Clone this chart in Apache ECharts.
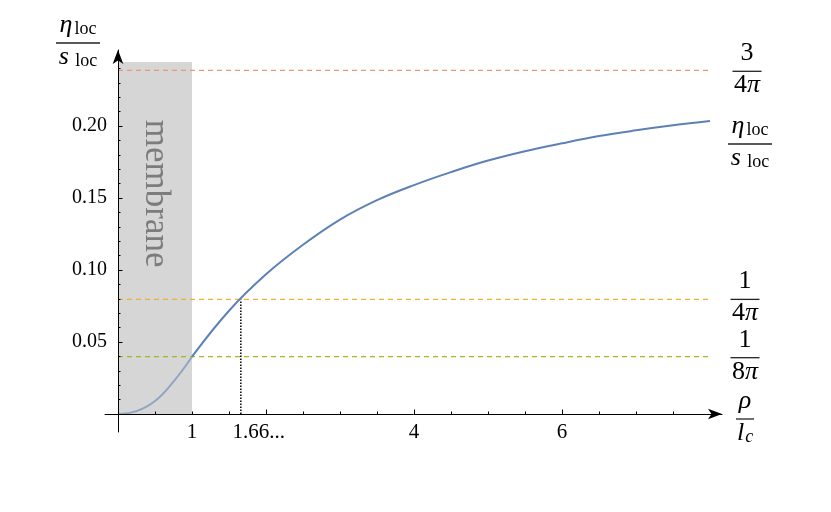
<!DOCTYPE html>
<html>
<head>
<meta charset="utf-8">
<script src="https://cdn.jsdelivr.net/npm/echarts@6/dist/echarts.min.js"></script>
<style>
  html, body { margin: 0; padding: 0; background: #fff; }
  #main { width: 831px; height: 512px; }
</style>
</head>
<body>
<div id="main"></div>
<script>
// curve eta_loc / s_loc against rho / l_c
// inside the membrane (0..1)
const rhoIn = [0, 0.25, 0.5, 0.75, 1.0]
const etaIn = [0, 0.002, 0.009, 0.0225, 0.0398]
// outside the membrane (1..8)
const rhoOut = [1.0, 1.5, 2.0, 2.5, 3.0, 3.5, 4.0, 4.5, 5.0, 5.5, 6.0, 6.5, 7.0, 7.5, 8.0]
const etaOut = [0.0398, 0.0717, 0.097, 0.1175, 0.135, 0.1485, 0.159, 0.168, 0.176, 0.1825, 0.188, 0.193, 0.197, 0.2005, 0.2035]

// reference levels: 3/(4pi), 1/(4pi), 1/(8pi)
const refValues = [0.2387, 0.0796, 0.0398]
const refColors = ['#e9967a', '#efb03a', '#a2b826']
const refEnd = 8

const membraneEnd = 1
const membraneTop = 0.2444
const crossX = 1.66

const xLabelValues = [1, 1.66, 4, 6]
const xMinorTicks = [0.5, 1, 1.5, 2, 2.5, 3, 3.5, 4, 4.5, 5, 5.5, 6, 6.5, 7, 7.5]
const xMajorTicks = [2, 4, 6]
const yLabelValues = [0.05, 0.1, 0.15, 0.2]
const yMinorTicks = [0.01, 0.02, 0.03, 0.04, 0.06, 0.07, 0.08, 0.09, 0.11, 0.12, 0.13, 0.14, 0.16, 0.17, 0.18, 0.19, 0.21, 0.22, 0.23, 0.24]

const serif = "'Liberation Serif', 'DejaVu Serif', serif"

const inside = rhoIn.map((x, i) => [x, etaIn[i]])
const outside = rhoOut.map((x, i) => [x, etaOut[i]])

const chart = echarts.init(document.getElementById('main'), null, { renderer: 'canvas' })

const xMin = -0.1757
const xMax = 8.162
const yMin = -0.0125
const yMax = 0.2528

function xAxisBase(extra) {
  return Object.assign({
    type: 'value',
    min: xMin,
    max: xMax,
    position: 'bottom',
    z: 10,
    splitLine: { show: false },
    axisLine: { onZero: true, lineStyle: { color: '#000', width: 1 } }
  }, extra)
}

function yAxisBase(extra) {
  return Object.assign({
    type: 'value',
    min: yMin,
    max: yMax,
    position: 'left',
    z: 10,
    splitLine: { show: false },
    axisLine: { onZero: true, lineStyle: { color: '#000', width: 1 } }
  }, extra)
}

const series = [
  {
    type: 'line',
    data: [],
    silent: true,
    z: 1,
    markArea: {
      silent: true,
      itemStyle: { color: '#d6d6d6' },
      data: [[{ xAxis: 0, yAxis: 0 }, { xAxis: membraneEnd, yAxis: membraneTop }]]
    }
  }
]

refValues.forEach((v, i) => {
  series.push({
    type: 'line',
    data: [[0, v], [refEnd, v]],
    showSymbol: false,
    silent: true,
    z: 2,
    lineStyle: { color: refColors[i], width: 1.3, type: [5, 4] }
  })
})

series.push({
  type: 'line',
  data: [[crossX, 0], [crossX, refValues[1]]],
  showSymbol: false,
  silent: true,
  z: 3,
  lineStyle: { color: '#000', width: 1.5, type: [1.5, 1.5] }
})

series.push({
  type: 'line',
  data: inside,
  smooth: 0.4,
  showSymbol: false,
  silent: true,
  z: 4,
  lineStyle: { color: '#91a5c3', width: 2 }
})

series.push({
  type: 'line',
  data: outside,
  smooth: 0.4,
  showSymbol: false,
  silent: true,
  z: 4,
  lineStyle: { color: '#5e81b5', width: 2 }
})

chart.setOption({
  animation: false,
  backgroundColor: '#fff',
  grid: { left: 105, right: 109, top: 50, bottom: 80 },
  xAxis: [
    xAxisBase({
      axisLine: { onZero: true, symbol: ['none', 'arrow'], symbolSize: [8, 14], lineStyle: { color: '#000', width: 1 } },
      axisTick: { show: true, inside: true, length: 2.5, customValues: xMinorTicks, lineStyle: { color: '#000' } },
      axisLabel: {
        customValues: xLabelValues,
        margin: -10,
        color: '#000',
        fontFamily: serif,
        fontSize: 21,
        formatter: v => (Math.abs(v - 1.66) < 1e-6 ? '{w|1.66...}' : String(v)),
        rich: { w: { fontFamily: serif, fontSize: 21, color: '#000', padding: [0, 0, 0, 36] } }
      }
    }),
    xAxisBase({
      axisLine: { show: false, onZero: true },
      axisTick: { show: true, inside: true, length: 4.5, customValues: xMajorTicks, lineStyle: { color: '#000' } },
      axisLabel: { show: false }
    })
  ],
  yAxis: [
    yAxisBase({
      axisLine: { onZero: true, symbol: ['none', 'arrow'], symbolSize: [8, 14], lineStyle: { color: '#000', width: 1 } },
      axisTick: { show: true, inside: true, length: 4.5, customValues: yLabelValues, lineStyle: { color: '#000' } },
      axisLabel: {
        customValues: yLabelValues,
        margin: -2,
        color: '#000',
        fontFamily: serif,
        fontSize: 20,
        formatter: v => v.toFixed(2)
      }
    }),
    yAxisBase({
      axisLine: { show: false, onZero: true },
      axisTick: { show: true, inside: true, length: 2.5, customValues: yMinorTicks, lineStyle: { color: '#000' } },
      axisLabel: { show: false }
    })
  ],
  series: series
})

// fraction labels drawn as graphic groups
const rich = {
  n: { fontFamily: serif, fontSize: 26, color: '#000', verticalAlign: 'bottom' },
  it: { fontFamily: serif, fontSize: 26, fontStyle: 'italic', color: '#000', verticalAlign: 'bottom' },
  sub: { fontFamily: serif, fontSize: 18, color: '#000', verticalAlign: 'bottom', padding: [0, 0, 0, 2] },
  isub: { fontFamily: serif, fontSize: 18, fontStyle: 'italic', color: '#000', verticalAlign: 'bottom', padding: [0, 0, 0, 1] }
}

function frac(cx, cy, num, den, w) {
  return {
    type: 'group',
    silent: true,
    children: [
      { type: 'text', z: 100, x: cx, y: cy - 5, style: { text: num, rich: rich, align: 'center', verticalAlign: 'bottom' } },
      { type: 'line', z: 100, shape: { x1: cx - w / 2, y1: cy, x2: cx + w / 2, y2: cy }, style: { stroke: '#222', lineWidth: 1.3 } },
      { type: 'text', z: 100, x: cx, y: cy + 1, style: { text: den, rich: rich, align: 'center', verticalAlign: 'top' } }
    ]
  }
}

const px = p => chart.convertToPixel({ gridIndex: 0 }, p)
const etaNum = '{it|η}{sub|loc}'
const etaDen = '{it|s}{sub| loc}'

const p3 = px([refEnd, refValues[0]])
const p1 = px([refEnd, refValues[1]])
const p8 = px([refEnd, refValues[2]])
const pEnd = px(outside[outside.length - 1])
const pAxis = px([refEnd, 0])
const pTop = px([0, yMax])
const pMem = px([membraneEnd / 2, 0.153])

chart.setOption({
  graphic: [
    frac(p3[0] + 37, p3[1] + 1, '{n|3}', '{n|4}{it|π}', 29),
    frac(pEnd[0] + 40, pEnd[1] + 23, etaNum, etaDen, 44),
    frac(p1[0] + 35, p1[1], '{n|1}', '{n|4}{it|π}', 29),
    frac(p8[0] + 35, p8[1] + 1, '{n|1}', '{n|8}{it|π}', 29),
    frac(pAxis[0] + 35, pAxis[1] + 5, '{it|ρ}', '{it|l}{isub|c}', 18),
    frac(pTop[0] - 40, pTop[1] - 7, etaNum, etaDen, 44),
    {
      type: 'text',
      silent: true,
      z: 100,
      x: pMem[0],
      y: pMem[1],
      rotation: -Math.PI / 2,
      style: {
        text: 'membrane',
        fontFamily: serif,
        fontSize: 35,
        fill: '#7c7c7c',
        align: 'center',
        verticalAlign: 'middle'
      }
    }
  ]
})
</script>
</body>
</html>
